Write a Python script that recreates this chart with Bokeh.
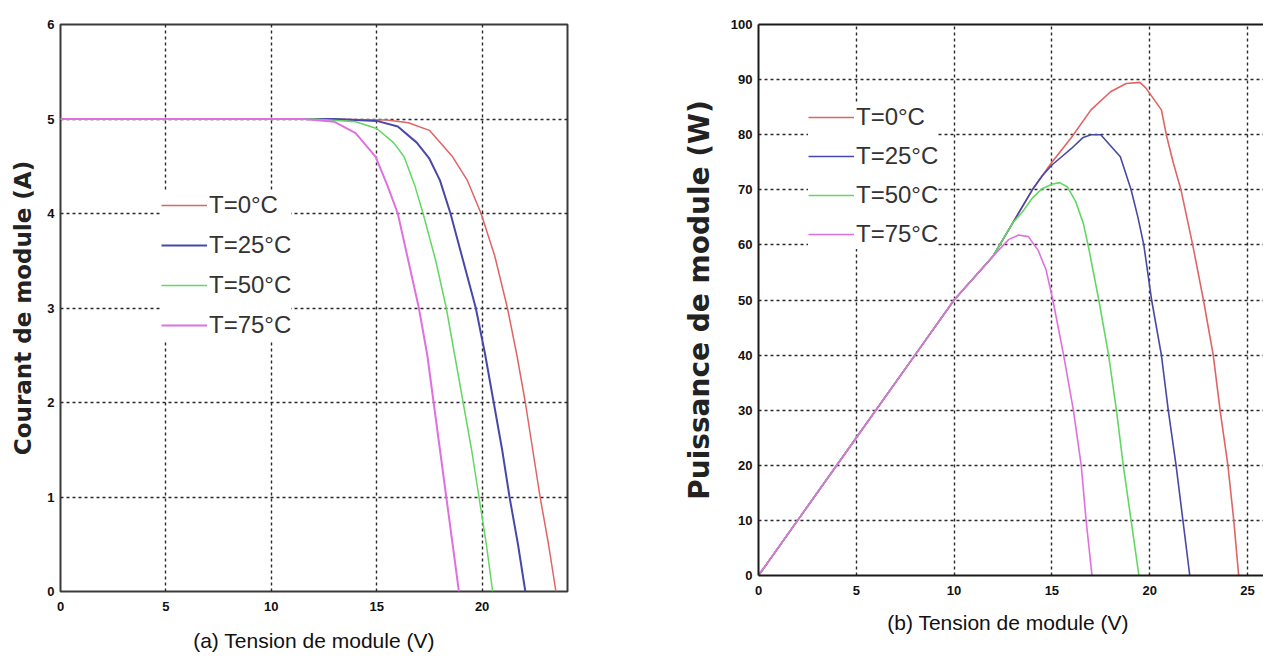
from bokeh.plotting import figure
from bokeh.layouts import row
from bokeh.models import FixedTicker, Legend, LegendItem, LinearAxis, Range1d
from bokeh.embed import file_html
from bokeh.resources import INLINE

# ---------------- data ----------------
labels = ["T=0°C", "T=25°C", "T=50°C", "T=75°C"]
colors = ["#e06464", "#4848a8", "#62d862", "#e070e0"]

# (a) I-V curves
iv_t0_v = [0, 12, 15.5, 16.5, 17.5, 18.6, 19.3, 19.95, 20.6, 21.2, 21.65, 22.05, 22.4, 22.75, 23.15, 23.5]
iv_t0_i = [5, 5, 4.99, 4.96, 4.88, 4.6, 4.35, 4.0, 3.55, 3.0, 2.5, 2.0, 1.5, 1.0, 0.5, 0]
iv_t25_v = [0, 13, 15, 16, 16.9, 17.5, 18.0, 18.5, 19.1, 19.7, 20.15, 20.55, 20.95, 21.3, 21.7, 22.05]
iv_t25_i = [5, 5, 4.98, 4.92, 4.75, 4.58, 4.35, 4.0, 3.5, 3.0, 2.5, 2.0, 1.5, 1.0, 0.5, 0]
iv_t50_v = [0, 12, 14, 15, 15.8, 16.3, 16.8, 17.2, 17.8, 18.3, 18.7, 19.1, 19.5, 19.85, 20.2, 20.5]
iv_t50_i = [5, 5, 4.97, 4.9, 4.75, 4.6, 4.3, 4.0, 3.5, 3.0, 2.5, 2.0, 1.5, 1.0, 0.5, 0]
iv_t75_v = [0, 11.5, 13, 14, 14.95, 15.5, 16.0, 16.5, 17.0, 17.4, 17.7, 18.0, 18.3, 18.6, 18.9]
iv_t75_i = [5, 5, 4.97, 4.85, 4.6, 4.3, 4.0, 3.5, 3.0, 2.5, 2.0, 1.5, 1.0, 0.5, 0]

# (b) P-V curves
pv_t0_v = [0, 2, 5, 8, 10, 12, 13, 14, 15, 16, 17, 18, 18.8, 19.5, 19.8, 20.2, 20.6, 20.85, 21.2, 21.6, 22.2, 22.75, 23.25, 23.6, 24.0, 24.3, 24.55]
pv_t0_p = [0, 10, 25, 40, 50, 58, 64, 70, 75, 79.5, 84.5, 87.8, 89.3, 89.5, 88.5, 86.5, 84.5, 80, 75, 70, 60, 50, 40, 30, 20, 10, 0]
pv_t25_v = [0, 2, 5, 8, 10, 12, 13, 14, 14.5, 15, 15.5, 16, 16.6, 17.0, 17.5, 18.0, 18.5, 19.05, 19.4, 19.7, 20.1, 20.6, 20.95, 21.35, 21.7, 22.05]
pv_t25_p = [0, 10, 25, 40, 50, 58, 64, 70, 72.5, 74.5, 76, 77.5, 79.5, 80, 80, 78, 76, 70, 65, 60, 50, 40, 30, 20, 10, 0]
pv_t50_v = [0, 2, 5, 8, 10, 12, 13, 13.5, 14, 14.5, 15.0, 15.4, 15.8, 16.2, 16.6, 16.85, 17.4, 17.9, 18.3, 18.65, 19.05, 19.45]
pv_t50_p = [0, 10, 25, 40, 50, 58, 64, 66, 68.5, 70.2, 71, 71.3, 70.5, 68, 64, 60, 50, 40, 30, 20, 10, 0]
pv_t75_v = [0, 2, 5, 8, 10, 12, 12.8, 13.3, 13.8, 14.3, 14.7, 15.05, 15.6, 16.1, 16.5, 16.75, 17.05]
pv_t75_p = [0, 10, 25, 40, 50, 58, 61, 61.8, 61.5, 59, 55.5, 50, 40, 30, 20, 10, 0]

iv_ticks_x = [0, 5, 10, 15, 20]
iv_ticks_y = [0, 1, 2, 3, 4, 5, 6]
pv_ticks_x = [0, 5, 10, 15, 20, 25]
pv_ticks_y = [0, 10, 20, 30, 40, 50, 60, 70, 80, 90, 100]

NARROW = "'Liberation Sans Narrow', 'Liberation Sans', sans-serif"
BOLD = "'DejaVu Sans', sans-serif"
GRID_COLOR = "#2a2a2a"
FRAME_COLOR = "#3a3a3a"
TOP_BORDER = 24
BOTTOM_BORDER = 67


def style_axes(xax, yax, xt, yt, p):
    for ax, ticks in ((xax, xt), (yax, yt)):
        ax.ticker = FixedTicker(ticks=ticks)
        ax.major_tick_line_color = None
        ax.minor_tick_line_color = None
        ax.major_tick_out = 0
        ax.major_tick_in = 0
        ax.minor_tick_out = 0
        ax.minor_tick_in = 0
        ax.major_label_text_font = NARROW
        ax.major_label_text_font_style = "bold"
        ax.major_label_text_font_size = "13px"
        ax.major_label_text_color = "#111111"
    p.xgrid.ticker = FixedTicker(ticks=xt)
    p.ygrid.ticker = FixedTicker(ticks=yt)
    for g in (p.xgrid[0], p.ygrid[0]):
        g.grid_line_color = GRID_COLOR
        g.grid_line_dash = "3 3"
        g.grid_line_width = 1.4
    xax.axis_label_text_font = NARROW
    xax.axis_label_text_font_style = "normal"
    xax.axis_label_text_font_size = "21px"
    xax.axis_label_text_color = "#111111"
    yax.axis_label_text_font = BOLD
    yax.axis_label_text_font_style = "bold"
    yax.axis_label_text_color = "#222222"


def make_legend(renderers, loc, spacing):
    items = [LegendItem(label=l, renderers=[r]) for l, r in zip(labels, renderers)]
    lg = Legend(items=items, location=loc)
    lg.label_text_font = NARROW
    lg.label_text_font_size = "24px"
    lg.label_text_color = "#333333"
    lg.label_height = 30
    lg.glyph_height = 30
    lg.glyph_width = 46
    lg.label_standoff = 2
    lg.spacing = spacing
    lg.padding = 6
    lg.margin = 0
    lg.border_line_color = None
    lg.background_fill_color = "white"
    lg.background_fill_alpha = 1.0
    return lg


# ---------------- (a) I-V ----------------
p1 = figure(frame_width=507, frame_height=567,
            min_border_left=60, min_border_top=TOP_BORDER, min_border_right=10,
            min_border_bottom=BOTTOM_BORDER,
            x_range=Range1d(0, 24.05), y_range=Range1d(0, 6),
            output_backend="svg", toolbar_location=None,
            background_fill_color="white", border_fill_color="white")
xa1 = p1.below[0]
ya1 = p1.left[0]
style_axes(xa1, ya1, iv_ticks_x, iv_ticks_y, p1)
p1.outline_line_color = FRAME_COLOR
p1.outline_line_width = 2
xa1.axis_line_color = None
ya1.axis_line_color = None
xa1.major_label_standoff = 10
ya1.major_label_standoff = 6
xa1.axis_label = "(a) Tension de module (V)"
xa1.axis_label_standoff = 15
ya1.axis_label = "Courant de module (A)"
ya1.axis_label_text_font_size = "23px"
ya1.axis_label_standoff = 8

iv_sets = [(iv_t0_v, iv_t0_i), (iv_t25_v, iv_t25_i), (iv_t50_v, iv_t50_i), (iv_t75_v, iv_t75_i)]
iv_widths = [1.5, 2.0, 1.5, 2.0]
r1 = []
for (xs, ys), c, w in zip(iv_sets, colors, iv_widths):
    r1.append(p1.line(xs, ys, line_color=c, line_width=w))
p1.add_layout(make_legend(r1, (101, 251), 10))

# ---------------- (b) P-V ----------------
p2 = figure(frame_width=505, frame_height=551,
            min_border_left=181, min_border_top=TOP_BORDER, min_border_right=0,
            min_border_bottom=BOTTOM_BORDER,
            x_range=Range1d(0, 25.82), y_range=Range1d(0, 100),
            output_backend="svg", toolbar_location=None,
            background_fill_color="white", border_fill_color="white")
xa2 = p2.below[0]
ya2 = p2.left[0]
style_axes(xa2, ya2, pv_ticks_x, pv_ticks_y, p2)
p2.outline_line_color = None
for ax in (xa2, ya2):
    ax.axis_line_color = "#1a1a1a"
    ax.axis_line_width = 2
top_axis = LinearAxis(ticker=FixedTicker(ticks=[]), major_label_text_font_size="0px",
                      major_tick_line_color=None, minor_tick_line_color=None,
                      major_tick_out=0, major_tick_in=0, major_label_standoff=0,
                      axis_line_color="#1a1a1a", axis_line_width=2)
p2.add_layout(top_axis, "above")
xa2.major_label_standoff = 10
ya2.major_label_standoff = 6
xa2.axis_label = "(b)  Tension de module (V)"
xa2.axis_label_standoff = 13
ya2.axis_label = "Puissance de module (W)"
ya2.axis_label_text_font_size = "28px"
ya2.axis_label_standoff = 12

pv_sets = [(pv_t0_v, pv_t0_p), (pv_t25_v, pv_t25_p), (pv_t50_v, pv_t50_p), (pv_t75_v, pv_t75_p)]
r2 = []
for (xs, ys), c in zip(pv_sets, colors):
    r2.append(p2.line(xs, ys, line_color=c, line_width=1.6))
p2.add_layout(make_legend(r2, (50, 326), 9))

layout = row(p1, p2)
open("out.html", "w").write(file_html(layout, INLINE))
